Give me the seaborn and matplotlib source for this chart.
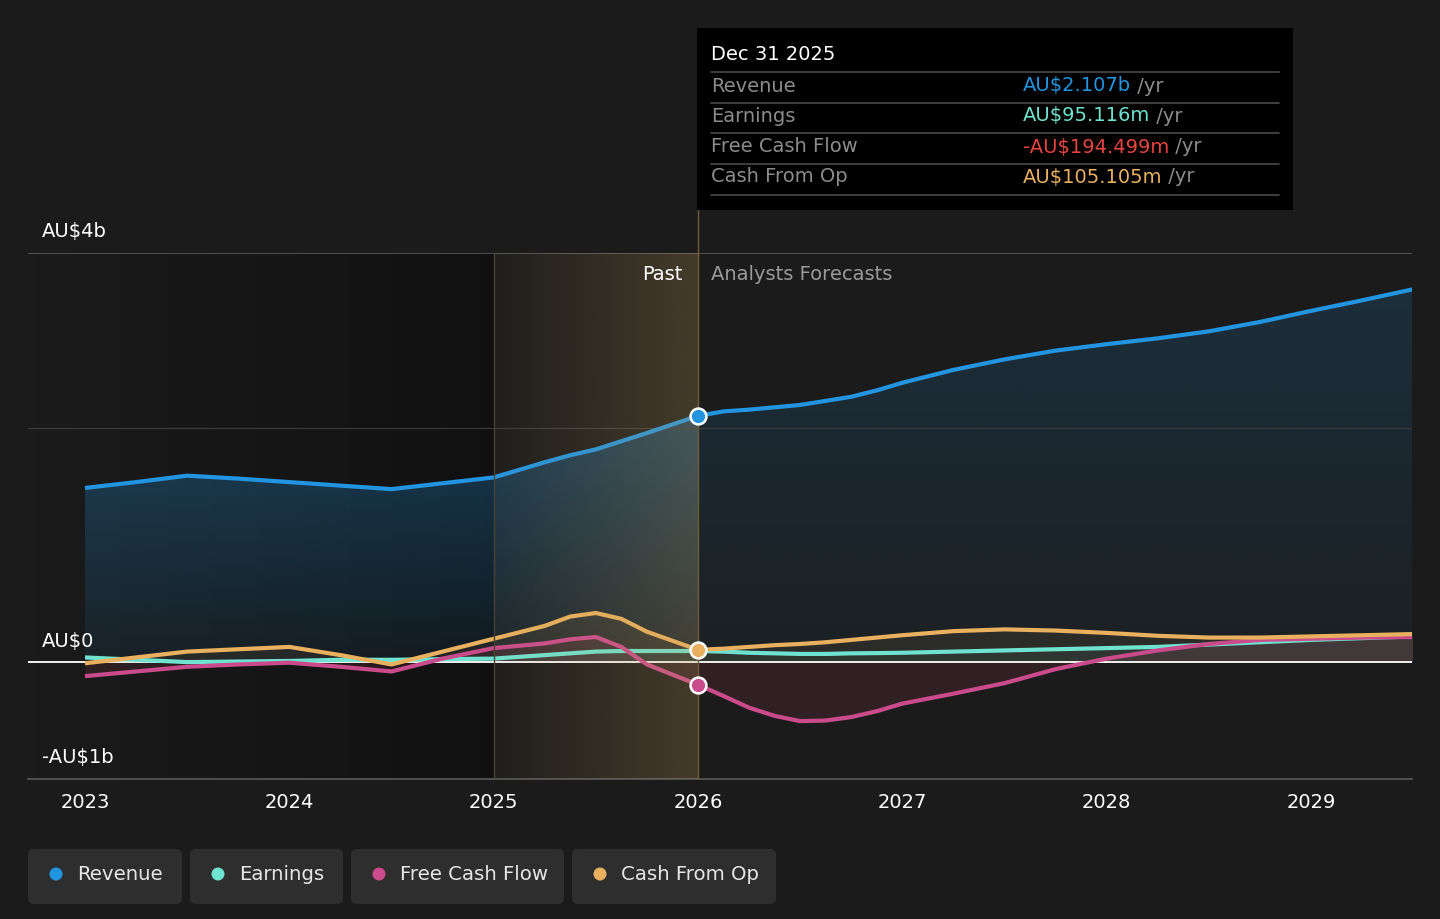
import numpy as np
import pandas as pd
import matplotlib
matplotlib.use("Agg")
import matplotlib.pyplot as plt
import seaborn as sns
from matplotlib.patches import FancyBboxPatch, Rectangle, Circle
from matplotlib.transforms import IdentityTransform
from matplotlib.colors import to_rgb

# ---------------- data (AU$ billions) ----------------
years = [2023.0, 2023.25, 2023.5, 2023.75, 2024.0, 2024.25, 2024.5, 2024.75,
         2025.0, 2025.25, 2025.375, 2025.5, 2025.625, 2025.75,
         2026.0, 2026.125, 2026.25, 2026.375, 2026.5, 2026.625, 2026.75, 2026.875,
         2027.0, 2027.25, 2027.5, 2027.75, 2028.0, 2028.25, 2028.5, 2028.75,
         2029.0, 2029.25, 2029.5]
revenue = [1.49, 1.54, 1.595, 1.57, 1.54, 1.51, 1.48, 1.53,
           1.58, 1.71, 1.77, 1.82, 1.89, 1.96,
           2.107, 2.145, 2.16, 2.18, 2.20, 2.235, 2.27, 2.325,
           2.39, 2.50, 2.59, 2.665, 2.72, 2.77, 2.83, 2.91,
           3.005, 3.095, 3.19]
earnings = [0.04, 0.02, 0.00, 0.005, 0.01, 0.02, 0.02, 0.025,
            0.03, 0.06, 0.075, 0.09, 0.095, 0.095,
            0.095, 0.09, 0.08, 0.075, 0.07, 0.07, 0.075, 0.077,
            0.08, 0.09, 0.10, 0.11, 0.12, 0.13, 0.15, 0.17,
            0.19, 0.205, 0.22]
free_cash_flow = [-0.12, -0.08, -0.04, -0.02, -0.005, -0.04, -0.08, 0.03,
                  0.12, 0.16, 0.195, 0.215, 0.13, -0.02,
                  -0.194, -0.29, -0.39, -0.46, -0.505, -0.50, -0.47, -0.42,
                  -0.355, -0.27, -0.18, -0.06, 0.03, 0.10, 0.155, 0.19,
                  0.20, 0.21, 0.215]
cash_from_op = [-0.01, 0.04, 0.09, 0.11, 0.13, 0.06, -0.02, 0.09,
                0.20, 0.31, 0.39, 0.42, 0.37, 0.26,
                0.105, 0.115, 0.13, 0.145, 0.155, 0.17, 0.19, 0.21,
                0.23, 0.265, 0.28, 0.27, 0.25, 0.225, 0.21, 0.21,
                0.22, 0.23, 0.24]

series_names = ["Revenue", "Earnings", "Free Cash Flow", "Cash From Op"]
series_colors = ["#2394df", "#6fe3cf", "#c94b8c", "#e8b05f"]
xtick_years = [2023, 2024, 2025, 2026, 2027, 2028, 2029]
xtick_labels = ["2023", "2024", "2025", "2026", "2027", "2028", "2029"]
ytick_values = [3.5, 0.0, -1.0]
ytick_labels = ["AU$4b", "AU$0", "-AU$1b"]
past_start, past_end = 2025.0, 2026.0
tooltip_date = "Dec 31 2025"
tooltip_values = ["AU$2.107b", "AU$95.116m", "-AU$194.499m", "AU$105.105m"]
tooltip_value_colors = ["#2394df", "#6fe3cf", "#e8443f", "#e8b05f"]

df = pd.DataFrame({"year": years, "Revenue": revenue, "Earnings": earnings,
                   "Free Cash Flow": free_cash_flow, "Cash From Op": cash_from_op})

# ---------------- figure ----------------
BG = "#1b1b1b"
W, H = 1440, 919
FS = 14
sns.set_style("dark")
plt.rcParams["font.family"] = ["DejaVu Sans"]

fig = plt.figure(figsize=(W / 100, H / 100), dpi=100, facecolor=BG)


def fx(px):
    return px / W


def fy(py):
    return 1 - py / H


ax = fig.add_axes([fx(28), fy(779), (1412 - 28) / W, (779 - 253) / H])
ax.set_facecolor(BG)
XMIN, XMAX = 2022.721, 2029.494
YMIN, YMAX = -1.0, 3.5

# darker past background gradient
n = 256
grad = np.zeros((1, n, 4))
grad[..., 3] = np.linspace(0.0, 0.38, n)
ax.imshow(grad, extent=[XMIN, past_start, YMIN, YMAX], aspect="auto",
          interpolation="bicubic", zorder=0)

# revenue fill with vertical gradient (past stronger, forecast lighter)
blue = to_rgb(series_colors[0])
yy = np.linspace(YMAX, 0, 256)
for (x0, x1, a0, k) in [(years[0], past_end, 0.07, 0.12), (past_end, years[-1], 0.04, 0.04)]:
    mask = [(x0 <= y <= x1) for y in years]
    xs = [y for y, m in zip(years, mask) if m]
    rs = [r for r, m in zip(revenue, mask) if m]
    poly = ax.fill_between(xs, 0, rs, color="none", lw=0)
    g = np.zeros((256, 1, 4))
    g[..., 0], g[..., 1], g[..., 2] = blue
    g[:, 0, 3] = np.clip(a0 + k * yy, 0, 0.5)
    im = ax.imshow(g, extent=[x0, x1, 0, YMAX], aspect="auto",
                   interpolation="bicubic", zorder=1)
    im.set_clip_path(poly.get_paths()[0], transform=ax.transData)

# other series fills
ax.fill_between(years, 0, earnings, color=series_colors[1], alpha=0.07, lw=0, zorder=1.2)
ax.fill_between(years, 0, cash_from_op, color=series_colors[3], alpha=0.08, lw=0, zorder=1.2)
ax.fill_between(years, 0, free_cash_flow, color="#c94b6c", alpha=0.12, lw=0, zorder=1.2)

# grid lines
ax.axhline(2.0, color="#3a3a3a", lw=0.9, zorder=1.5)
ax.axhline(YMAX, color="#5a5a5a", lw=1.2, zorder=1.5)
ax.axhline(0.0, color="#f0f0f0", lw=1.4, zorder=2)

# series lines
for name, col in zip(series_names, series_colors):
    sns.lineplot(data=df, x="year", y=name, ax=ax, color=col, lw=3.0,
                 zorder=3, solid_capstyle="butt", solid_joinstyle="round")

# past highlight overlay (gold gradient)
gold = to_rgb("#c8a05a")
hg = np.zeros((1, n, 4))
hg[..., 0], hg[..., 1], hg[..., 2] = gold
hg[..., 3] = np.linspace(0.03, 0.24, n)
ax.imshow(hg, extent=[past_start, past_end, YMIN, YMAX], aspect="auto",
          interpolation="bicubic", zorder=4)

ax.axvline(past_start, color="#4a4232", lw=1.0, zorder=4.5)
ax.plot([past_end, past_end], [YMIN, YMAX + 0.38], color="#6e5c3a", lw=1.0,
        zorder=4.5, clip_on=False)

# markers at the tooltip date
idx = years.index(past_end)
for vals, col in [(revenue, series_colors[0]), (cash_from_op, series_colors[3]),
                  (free_cash_flow, series_colors[2])]:
    ax.scatter([years[idx]], [vals[idx]], s=130, color=col, edgecolor="white",
               linewidth=1.8, zorder=6)

ax.set_xlim(XMIN, XMAX)
ax.set_ylim(YMIN, YMAX)
ax.set_xticks(xtick_years)
ax.set_xticklabels(xtick_labels, color="white", fontsize=FS)
ax.set_yticks([])
ax.tick_params(axis="x", colors="#5a5a5a", length=4, width=1.2, pad=6,
               labelcolor="white")
ax.set_xlabel("")
ax.set_ylabel("")
for s in ["top", "left", "right"]:
    ax.spines[s].set_visible(False)
ax.spines["bottom"].set_color("#5a5a5a")
ax.spines["bottom"].set_linewidth(1.2)

# y labels
for v, lab, py in zip(ytick_values, ytick_labels, [231, 641, 758]):
    fig.text(fx(42), fy(py), lab, color="white", fontsize=FS, va="center", ha="left")

fig.text(fx(683), fy(274), "Past", color="white", fontsize=FS, va="center", ha="right")
fig.text(fx(711), fy(274), "Analysts Forecasts", color="#9a9a9a", fontsize=FS,
         va="center", ha="left")

# tooltip
fig.add_artist(Rectangle((697, H - 210), 1293 - 697, 210 - 28, transform=IdentityTransform(),
                         facecolor="black", edgecolor="none", zorder=10))
fig.text(fx(711), fy(55), tooltip_date, color="white", fontsize=FS, va="center",
         ha="left", zorder=11)
for py in [72, 103, 133, 164, 195]:
    fig.add_artist(plt.Line2D([711, 1279], [H - py, H - py], transform=IdentityTransform(),
                              color="#4a4a4a", lw=1.2, zorder=11))
row_y = [86, 116, 147, 177]
value_texts = []
for name, val, vcol, py in zip(series_names, tooltip_values, tooltip_value_colors, row_y):
    fig.text(fx(711), fy(py), name, color="#8c8c8c", fontsize=FS, va="center",
             ha="left", zorder=11)
    t = fig.text(fx(1023), fy(py), val, color=vcol, fontsize=FS, va="center",
                 ha="left", zorder=11)
    value_texts.append((t, py))

fig.canvas.draw()
renderer = fig.canvas.get_renderer()
for t, py in value_texts:
    bb = t.get_window_extent(renderer)
    fig.text(bb.x1 / W, fy(py), " /yr", color="#8c8c8c", fontsize=FS, va="center",
             ha="left", zorder=11)

# legend
boxes = [(28, 182), (190, 343), (351, 564), (572, 776)]
for (x0, x1), name, col in zip(boxes, series_names, series_colors):
    fig.add_artist(FancyBboxPatch((x0, H - 904), x1 - x0, 904 - 849,
                                  boxstyle="round,pad=0,rounding_size=6",
                                  transform=IdentityTransform(),
                                  facecolor="#2e2e2e", edgecolor="none"))
    fig.add_artist(Circle((x0 + 28, H - 874), 6.5, transform=IdentityTransform(),
                          facecolor=col, edgecolor="none"))
    fig.text(fx(x0 + 49), fy(874), name, color="#e6e6e6", fontsize=14.2,
             va="center", ha="left")

fig.savefig("out.png", dpi=100, facecolor=BG)
